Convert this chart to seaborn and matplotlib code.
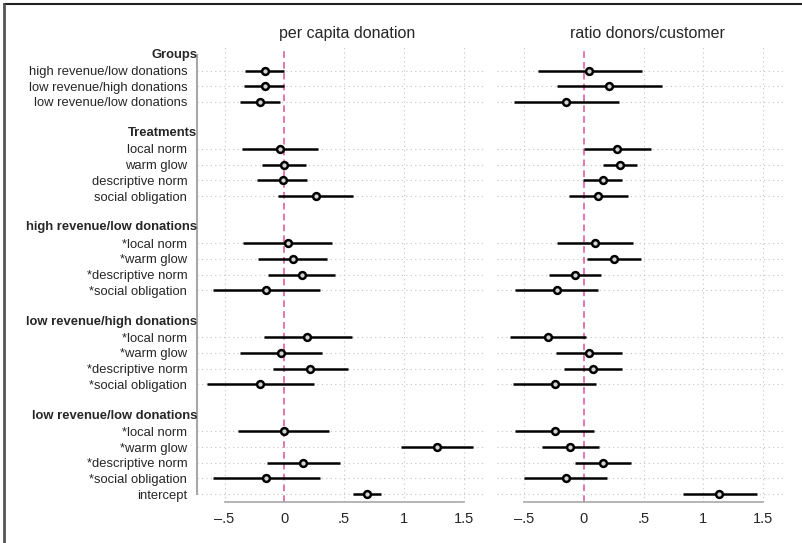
import numpy as np
import pandas as pd
import matplotlib
matplotlib.use("Agg")
import matplotlib.pyplot as plt
import seaborn as sns
from matplotlib.lines import Line2D

# ── data ────────────────────────────────────────────────────────────────────

group_titles = ["Groups", "Treatments", "high revenue/low donations",
                "low revenue/high donations", "low revenue/low donations"]
group_rows = [
    ["high revenue/low donations", "low revenue/high donations", "low revenue/low donations"],
    ["local norm", "warm glow", "descriptive norm", "social obligation"],
    ["*local norm", "*warm glow", "*descriptive norm", "*social obligation"],
    ["*local norm", "*warm glow", "*descriptive norm", "*social obligation"],
    ["*local norm", "*warm glow", "*descriptive norm", "*social obligation", "intercept"],
]

# per capita donation: estimate, lower, upper
pc_est = [-0.163, -0.163, -0.205,
          -0.038, 0.0, -0.015, 0.263,
          0.029, 0.071, 0.144, -0.149,
          0.194, -0.027, 0.219, -0.202,
          -0.005, 1.275, 0.157, -0.149, 0.692]
pc_lo = [-0.33, -0.336, -0.37,
         -0.353, -0.188, -0.228, -0.054,
         -0.344, -0.216, -0.135, -0.595,
         -0.171, -0.37, -0.096, -0.645,
         -0.391, 0.974, -0.146, -0.595, 0.575]
pc_hi = [0.0, 0.0, -0.038,
         0.283, 0.18, 0.194, 0.578,
         0.403, 0.355, 0.422, 0.297,
         0.562, 0.319, 0.531, 0.249,
         0.375, 1.576, 0.464, 0.297, 0.812]

# ratio donors/customer
rd_est = [0.045, 0.212, -0.148,
          0.279, 0.301, 0.159, 0.12,
          0.092, 0.253, -0.072, -0.228,
          -0.304, 0.045, 0.078, -0.245,
          -0.242, -0.114, 0.159, -0.153, 1.136]
rd_lo = [-0.39, -0.226, -0.588,
         0.0, 0.159, -0.006, -0.128,
         -0.226, 0.028, -0.292, -0.579,
         -0.621, -0.234, -0.17, -0.596,
         -0.577, -0.351, -0.078, -0.504, 0.827]
rd_hi = [0.487, 0.655, 0.295,
         0.563, 0.446, 0.32, 0.368,
         0.415, 0.479, 0.145, 0.12,
         0.014, 0.323, 0.32, 0.103,
         0.086, 0.123, 0.398, 0.195, 1.448]

panel_titles = ["per capita donation", "ratio donors/customer"]
xticks = [-0.5, 0, 0.5, 1, 1.5]
xticklabels = ["\u2013.5", "0", ".5", "1", "1.5"]

# ── row layout ──────────────────────────────────────────────────────────────

header_pos, row_pos, row_labels = [], [], []
pos = 0
for title, rows in zip(group_titles, group_rows):
    header_pos.append(pos)
    pos += 1
    for r in rows:
        row_pos.append(pos)
        row_labels.append(r)
        pos += 1
    pos += 1  # blank line between blocks

df = pd.DataFrame({"label": row_labels, "y": row_pos})
panels = [
    df.assign(est=pc_est, lo=pc_lo, hi=pc_hi),
    df.assign(est=rd_est, lo=rd_lo, hi=rd_hi),
]

# ── plot ────────────────────────────────────────────────────────────────────

sns.set_style("white")
plt.rcParams["font.family"] = ["Liberation Sans", "DejaVu Sans"]

fig = plt.figure(figsize=(8.02, 5.43), dpi=100)
ax_l = fig.add_axes([197 / 802, 1 - 502 / 543, 287 / 802, 455 / 543])
ax_r = fig.add_axes([497 / 802, 1 - 502 / 543, 286 / 802, 455 / 543])

grid_kw = dict(color="#c4c4c4", linestyle=(0, (1, 3)), linewidth=0.8, zorder=0)
spine_col = "#a8a8a8"

for ax, d, title in zip([ax_l, ax_r], panels, panel_titles):
    ax.set_xlim(-0.73, 1.67)
    ax.set_ylim(max(row_pos) + 0.5, -0.5)

    for y in d["y"]:
        ax.axhline(y, **grid_kw)
    for x in [-0.5, 0.5, 1, 1.5]:
        ax.axvline(x, **grid_kw)
    ax.axvline(0, color="#de5fa2", linestyle=(0, (4, 2.5)), linewidth=1.2, zorder=1)

    ax.hlines(d["y"], d["lo"], d["hi"], color="black", linewidth=1.8, zorder=2)
    sns.scatterplot(data=d, x="est", y="y", ax=ax, marker="o", s=24,
                    color="#d4d4d4", edgecolor="black", linewidth=1.8, zorder=3,
                    legend=False)

    ax.set_xlabel("")
    ax.set_ylabel("")
    ax.text(0.5 + 7 / 287, 1 + 14 / 455, title, transform=ax.transAxes,
            ha="center", va="center", fontsize=11.5)

    ax.set_xticks(xticks)
    ax.set_xticklabels(xticklabels, fontsize=10.5)
    ax.tick_params(axis="x", direction="out", length=4, width=1, color=spine_col, pad=3)

    for s in ["top", "right"]:
        ax.spines[s].set_visible(False)
    ax.spines["bottom"].set_color(spine_col)
    ax.spines["bottom"].set_linewidth(1.2)
    ax.spines["bottom"].set_bounds(-0.5, 1.5)

# left panel carries the row labels
ax_l.set_yticks(row_pos)
ax_l.set_yticklabels(row_labels, fontsize=9.4)
ax_l.tick_params(axis="y", direction="out", length=6, width=1, color=spine_col, pad=1)
ax_l.spines["left"].set_color(spine_col)
ax_l.spines["left"].set_linewidth(1.5)
ax_l.spines["left"].set_bounds(0, max(row_pos))
for y, t in zip(header_pos, group_titles):
    ax_l.text(0, y, t, transform=ax_l.get_yaxis_transform(), ha="right",
              va="center", fontsize=9.4, fontweight="bold")

ax_r.set_yticks([])
ax_r.spines["left"].set_visible(False)

# outer frame (top and left edge visible)
fig.add_artist(Line2D([4 / 802, 1.0], [1 - 4 / 543, 1 - 4 / 543],
                      transform=fig.transFigure, color="#222222", linewidth=1.5))
fig.add_artist(Line2D([4 / 802, 4 / 802], [0.0, 1 - 4 / 543],
                      transform=fig.transFigure, color="#555555", linewidth=2))

fig.savefig("out.png", dpi=100)
